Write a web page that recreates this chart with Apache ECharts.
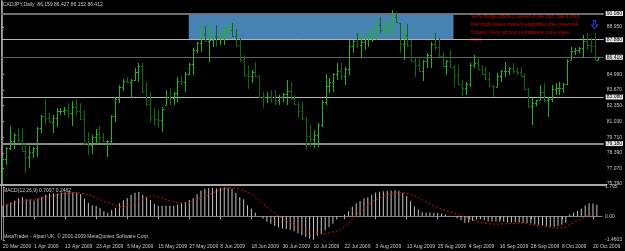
<!DOCTYPE html>
<html>
<head>
<meta charset="utf-8">
<script src="https://cdn.jsdelivr.net/npm/echarts@6/dist/echarts.min.js"></script>
<style>
  html, body { margin: 0; padding: 0; background: #000; }
  #chart { width: 625px; height: 251px; }
</style>
</head>
<body>
<div id="chart"></div>
<script>
// CADJPY daily, 20 Mar 2009 .. 21 Oct 2009 (one entry per trading day)
const opens = [76.60,77.85,78.80,79.39,79.90,79.48,78.55,78.05,78.43,78.80,80.45,81.50,81.32,80.95,81.36,81.87,81.91,81.95,81.70,82.24,
  81.87,81.25,79.25,79.10,79.72,79.94,79.69,79.40,79.40,81.45,82.95,83.95,84.45,84.30,84.50,85.14,85.70,83.60,82.50,81.41,
  81.24,81.19,82.41,83.12,82.96,83.40,84.46,84.34,85.05,85.85,87.00,87.60,88.36,87.80,87.86,88.20,88.07,88.24,88.70,88.70,
  88.20,87.40,86.20,84.90,84.80,85.20,84.85,83.10,83.04,83.12,83.04,82.83,83.04,83.35,83.59,83.00,82.50,81.91,81.30,79.81,
  79.56,79.90,80.75,82.70,84.04,84.30,85.00,85.22,84.84,85.45,87.32,87.75,87.40,87.65,87.99,88.32,88.70,89.12,88.70,88.95,
  89.24,89.75,89.28,87.53,88.24,87.40,86.10,85.80,85.30,86.10,86.60,87.50,87.23,86.55,85.70,86.10,85.60,84.92,84.15,83.80,
  84.20,85.80,85.89,85.40,85.05,84.60,84.00,83.95,84.84,85.25,85.26,85.51,85.26,85.17,84.85,83.75,82.30,82.62,82.83,83.46,
  82.80,82.95,83.75,83.80,83.83,84.15,86.18,86.90,87.02,87.20,87.74,87.40,87.32,86.159];
const highs = [77.96,78.89,80.65,80.06,80.48,80.48,79.22,78.97,78.89,80.56,81.57,82.91,81.74,81.57,82.16,82.16,82.24,82.58,82.74,82.91,
  82.58,81.99,80.14,79.89,80.39,80.65,80.06,79.47,81.57,83.08,84.08,84.59,84.75,84.59,85.51,85.93,85.93,84.34,83.50,82.16,
  81.99,82.24,83.66,83.83,83.50,84.75,84.84,85.17,85.93,87.19,87.69,89.12,89.03,89.20,88.45,89.12,88.70,89.03,89.37,89.28,
  88.78,88.02,86.60,85.76,85.34,86.01,84.92,83.50,83.50,83.66,83.66,83.25,83.41,84.50,84.34,83.25,82.66,82.66,81.40,80.73,
  80.31,80.90,82.83,85.01,84.67,85.09,85.93,85.93,85.59,87.86,87.86,88.45,88.45,88.28,88.70,88.95,89.54,89.79,89.28,89.62,
  90.37,90.21,89.28,88.87,89.20,87.86,86.43,86.43,86.18,86.77,87.69,88.45,88.03,86.85,86.18,87.02,85.76,85.76,84.50,84.34,
  85.93,86.60,86.43,85.76,85.59,85.17,84.08,85.09,85.34,86.01,85.59,85.93,85.59,85.59,85.09,83.83,82.99,82.83,84.08,84.25,
  83.08,84.08,84.25,84.34,84.25,86.26,87.27,87.19,87.27,88.28,88.45,88.03,88.45,86.427];
const lows = [76.12,77.38,78.63,78.72,79.31,78.47,76.71,77.13,77.96,78.05,80.06,80.73,80.90,80.06,80.56,81.57,81.57,81.32,80.65,81.57,
  81.15,79.05,78.21,78.30,79.05,79.22,79.31,78.05,79.05,80.98,82.58,83.58,84.25,82.99,84.42,84.34,83.41,82.32,80.98,80.65,
  80.48,80.14,82.41,82.41,82.41,82.66,84.08,83.50,84.92,84.92,86.77,86.85,87.69,86.01,87.27,87.27,87.44,87.44,88.03,88.11,
  87.27,86.01,84.75,83.75,84.25,84.75,82.99,82.16,82.58,82.58,82.41,82.41,82.66,82.41,82.83,82.41,81.32,81.15,78.63,78.89,
  78.80,78.89,80.56,82.41,83.41,83.50,84.50,84.50,84.08,84.92,86.77,87.19,86.35,87.02,87.27,87.69,87.86,88.45,88.11,88.28,
  88.11,89.28,86.77,86.18,87.27,86.01,84.75,85.17,84.42,85.51,85.51,87.02,86.43,85.59,84.92,85.51,83.91,84.08,83.16,83.25,
  83.91,85.51,85.34,84.92,84.50,83.91,83.08,83.91,84.34,84.75,84.92,85.09,84.92,84.75,83.66,82.16,80.73,82.32,82.83,82.66,
  81.40,82.66,83.25,83.25,83.41,84.08,86.18,86.60,86.77,86.43,87.02,86.77,86.18,86.152];
const closes = [77.85,78.80,79.39,79.90,79.48,78.55,78.05,78.43,78.80,80.45,81.50,81.32,80.95,81.36,81.87,81.91,81.95,81.70,82.24,81.87,
  81.25,79.25,79.10,79.72,79.94,79.69,79.40,79.40,81.45,82.95,83.95,84.45,84.30,84.50,85.14,85.70,83.60,82.50,81.41,81.24,
  81.19,82.10,83.12,82.96,83.40,84.46,84.34,85.05,85.85,87.00,87.60,88.36,87.80,87.86,88.20,88.07,88.24,88.70,88.70,88.20,
  87.40,86.20,84.90,84.80,85.20,84.85,83.10,83.04,83.12,83.04,82.83,83.04,83.35,83.59,83.00,82.50,81.91,81.30,79.81,79.56,
  79.90,80.75,82.70,84.04,84.30,85.00,85.22,84.84,85.45,87.32,87.75,87.40,87.65,87.99,88.32,88.70,89.12,88.70,88.95,89.24,
  89.75,89.40,87.53,88.24,87.40,86.10,85.80,85.30,86.10,86.60,87.50,87.23,86.55,85.70,86.10,85.60,84.92,84.15,83.80,84.20,
  85.80,85.89,85.40,85.05,84.60,84.00,83.95,84.84,85.25,85.26,85.51,85.26,85.17,84.85,83.75,82.30,82.62,82.80,83.46,82.80,
  82.95,83.75,83.80,83.83,84.15,86.10,86.90,87.02,87.20,87.74,87.40,87.32,86.20,86.412];

// MACD(12,26,9): main (histogram) and signal
const macdMain = [0.68,0.74,0.85,0.95,1.10,1.17,1.05,1.02,0.97,1.07,1.20,1.32,1.39,1.39,1.40,1.45,1.47,1.50,1.48,1.45,
  1.36,1.08,0.81,0.66,0.64,0.50,0.30,0.22,0.38,0.50,0.80,0.98,1.12,1.30,1.44,1.50,1.32,1.19,1.00,0.76,
  0.64,0.64,0.64,0.64,0.65,0.72,0.82,0.88,0.99,1.10,1.35,1.58,1.70,1.73,1.73,1.71,1.75,1.78,1.75,1.69,
  1.44,1.17,1.05,0.68,0.47,0.22,0.02,-0.16,-0.34,-0.46,-0.60,-0.70,-0.75,-0.78,-0.83,-0.92,-1.05,-1.17,-1.28,-1.38,
  -1.45,-1.20,-1.08,-0.88,-0.66,-0.46,-0.20,-0.04,0.11,0.30,0.58,0.79,0.94,1.10,1.17,1.32,1.45,1.50,1.54,1.55,
  1.58,1.60,1.56,1.42,1.24,0.92,0.62,0.42,0.25,0.22,0.25,0.21,0.20,0.16,0.10,0.03,-0.05,-0.13,-0.25,-0.40,
  -0.40,-0.29,-0.20,-0.18,-0.24,-0.32,-0.32,-0.32,-0.32,-0.34,-0.38,-0.38,-0.38,-0.38,-0.41,-0.43,-0.45,-0.50,-0.53,-0.56,
  -0.62,-0.64,-0.64,-0.62,-0.53,-0.40,0.11,0.21,0.32,0.47,0.66,0.80,0.78,0.7097];
const macdSignal = [0.68,0.72,0.78,0.83,0.88,0.92,0.96,1.00,1.03,1.07,1.11,1.17,1.22,1.27,1.31,1.36,1.39,1.41,1.43,1.45,
  1.42,1.37,1.32,1.25,1.15,1.03,0.93,0.84,0.75,0.66,0.57,0.56,0.65,0.76,0.86,0.96,1.06,1.14,1.24,1.25,
  1.17,1.09,1.01,0.94,0.89,0.84,0.79,0.76,0.83,0.93,1.03,1.13,1.22,1.32,1.43,1.53,1.62,1.70,1.75,1.74,
  1.71,1.66,1.56,1.48,1.39,1.18,0.98,0.77,0.58,0.37,0.18,-0.01,-0.14,-0.28,-0.40,-0.52,-0.63,-0.73,-0.82,-0.90,
  -0.97,-1.04,-1.09,-1.08,-1.02,-0.97,-0.91,-0.85,-0.64,-0.43,-0.18,0.06,0.29,0.51,0.68,0.84,1.00,1.12,1.23,1.31,
  1.38,1.45,1.45,1.45,1.41,1.34,1.27,1.14,1.01,0.87,0.74,0.64,0.54,0.44,0.35,0.27,0.20,0.12,0.05,-0.03,
  -0.13,-0.22,-0.32,-0.37,-0.42,-0.46,-0.48,-0.49,-0.48,-0.47,-0.46,-0.45,-0.44,-0.43,-0.43,-0.47,-0.50,-0.53,-0.57,-0.62,
  -0.66,-0.70,-0.74,-0.73,-0.70,-0.66,-0.50,-0.40,-0.28,-0.15,-0.02,0.10,0.20,0.2462];

// date axis: a label every 8 trading days
const dateLabels = ["20 Mar 2009","1 Apr 2009","13 Apr 2009","23 Apr 2009","5 May 2009","15 May 2009","27 May 2009",
  "8 Jun 2009","18 Jun 2009","30 Jun 2009","10 Jul 2009","22 Jul 2009","3 Aug 2009","13 Aug 2009","25 Aug 2009",
  "4 Sep 2009","16 Sep 2009","28 Sep 2009","8 Oct 2009","20 Oct 2009"];
const dateLabelBars = [0,8,16,24,32,40,48,56,64,72,80,88,96,104,112,120,128,136,144,152];

const priceTicks = [88.950, 84.990, 83.670, 82.350, 81.030, 79.710, 78.390, 77.070, 75.790];
const macdTicks = [1.795, 0, -1.4603];

// horizontal lines drawn on the chart
const levelPrices = [90.080, 87.880, 86.412, 83.080, 79.180];
const levelColors = ['#707070', '#b4b4b4', '#606060', '#b8b8b8', '#8a8a8a'];
const levelWidths = [2, 1, 1, 1, 2];

// resistance box (bars, prices) and arrow
const boxBars = [47.9, 115.8];
const boxPrices = [87.880, 90.080];
const arrowBar = 152;
const arrowPrice = 89.15;

const noteLines = [
  "Very huge DBHLC (even if we can call it four",
  "bar high lower close!) engulfing the previous",
  "5 bars. Very strong resistance zone (see",
  "box)"
];

const upColor = '#22b322';
const downColor = '#0f6a0f';
const font = 'Liberation Sans';

const bars = opens.map((o, i) => [i, o, highs[i], lows[i], closes[i]]);
const histData = macdMain.map((v, i) => [i, v]);
const signalData = macdSignal.map((v, i) => [i, v]);

function renderBar(params, api) {
  const i = api.value(0);
  const o = api.coord([i, api.value(1)]);
  const h = api.coord([i, api.value(2)]);
  const l = api.coord([i, api.value(3)]);
  const c = api.coord([i, api.value(4)]);
  const x = Math.round(h[0]) + 0.5;
  const color = api.value(4) >= api.value(1) ? upColor : downColor;
  const style = { stroke: color, lineWidth: 1 };
  const yo = Math.round(o[1]) + 0.5;
  const yc = Math.round(c[1]) + 0.5;
  return {
    type: 'group',
    children: [
      { type: 'line', shape: { x1: x, y1: h[1], x2: x, y2: l[1] }, style: style },
      { type: 'line', shape: { x1: x - 1.5, y1: yo, x2: x, y2: yo }, style: style },
      { type: 'line', shape: { x1: x, y1: yc, x2: x + 1.5, y2: yc }, style: style }
    ]
  };
}

const xMin = -0.26, xMax = 154.34;
const labelColor = '#c8c8c8';

const chart = echarts.init(document.getElementById('chart'));
chart.setOption({
  backgroundColor: '#000',
  animation: false,
  textStyle: { fontFamily: font },
  grid: [
    { left: 1, right: 18, top: 1, height: 183 },
    { left: 1, right: 18, top: 187, height: 53 }
  ],
  xAxis: [
    { type: 'value', gridIndex: 0, min: xMin, max: xMax, show: false },
    {
      type: 'value', gridIndex: 1, min: xMin, max: xMax,
      axisLine: { show: true, lineStyle: { color: '#808080' } },
      axisTick: { show: true, customValues: dateLabelBars, length: 3, lineStyle: { color: '#a0a0a0' } },
      axisLabel: {
        customValues: dateLabelBars, color: labelColor, fontSize: 5, margin: 4, align: 'left',
        formatter: v => dateLabels[dateLabelBars.indexOf(Math.round(v))] || ''
      },
      splitLine: { show: false }
    }
  ],
  yAxis: [
    {
      type: 'value', gridIndex: 0, position: 'right', min: 75.79, max: 91.127,
      axisLine: { show: true, lineStyle: { color: '#8c8c8c' } },
      axisTick: { show: true, customValues: priceTicks, length: 2, lineStyle: { color: '#a0a0a0' } },
      axisLabel: { customValues: priceTicks, color: labelColor, fontSize: 5, margin: 3, formatter: v => v.toFixed(3) },
      splitLine: { show: false }
    },
    {
      type: 'value', gridIndex: 1, position: 'right', min: -1.4603, max: 1.795,
      axisLine: { show: true, lineStyle: { color: '#8c8c8c' } },
      axisTick: { show: true, customValues: macdTicks, length: 2, lineStyle: { color: '#a0a0a0' } },
      axisLabel: { customValues: macdTicks, color: labelColor, fontSize: 5, margin: 3, formatter: v => v === 0 ? '0.00' : String(v) },
      splitLine: { show: false }
    }
  ],
  series: [
    {
      // resistance box, drawn as background
      type: 'line', xAxisIndex: 0, yAxisIndex: 0, data: [], z: 1, silent: true,
      markArea: {
        silent: true,
        itemStyle: { color: 'rgb(70,130,180)' },
        data: [[{ xAxis: boxBars[0], yAxis: boxPrices[1] }, { xAxis: boxBars[1], yAxis: boxPrices[0] }]]
      }
    },
    {
      type: 'custom', xAxisIndex: 0, yAxisIndex: 0, z: 5,
      renderItem: renderBar,
      encode: { x: 0, y: [1, 2, 3, 4] },
      data: bars,
      markPoint: {
        symbol: 'path://M3,0 L7,0 L7,6 L10,6 L5,11 L0,6 L3,6 Z',
        symbolSize: [6, 8],
        itemStyle: { color: 'rgba(0,0,0,0)', borderColor: '#2b3fe0', borderWidth: 1 },
        label: { show: false },
        data: [{ coord: [arrowBar, arrowPrice] }]
      }
    },
    {
      type: 'line', xAxisIndex: 0, yAxisIndex: 0, data: [], z: 8, silent: true,
      markLine: {
        silent: true,
        symbol: ['none', 'none'],
        label: {
          position: 'end', distance: 2, fontSize: 5, color: '#000', backgroundColor: '#e4e4e4',
          padding: [0, 1, 0, 1], formatter: p => p.value.toFixed(3)
        },
        data: levelPrices.map((p, k) => ({
          yAxis: p,
          lineStyle: { color: levelColors[k], width: levelWidths[k], type: 'solid' }
        }))
      }
    },
    {
      type: 'bar', xAxisIndex: 1, yAxisIndex: 1, data: histData, barWidth: 1,
      itemStyle: { color: '#c4c4c4' }, z: 3
    },
    {
      type: 'line', xAxisIndex: 1, yAxisIndex: 1, data: signalData, symbol: 'none',
      lineStyle: { color: '#d01010', width: 1, type: [2, 2] }, z: 4
    }
  ],
  graphic: [
    { type: 'line', shape: { x1: 1.5, y1: 0, x2: 1.5, y2: 240 }, style: { stroke: '#9a9a9a', lineWidth: 1 } },
    { type: 'line', shape: { x1: 0, y1: 185, x2: 607, y2: 185 }, style: { stroke: '#a8a8a8', lineWidth: 2 } },
    { type: 'text', left: 3, top: 2, style: { text: 'CADJPY,Daily  86.159 86.427 86.152 86.412', fill: labelColor, font: '5px ' + font } },
    { type: 'text', left: 3, top: 188, style: { text: 'MACD(12,26,9) 0.7097 0.2462', fill: labelColor, font: '5px ' + font } },
    { type: 'text', left: 3, top: 234, style: { text: 'MetaTrader - Alpari UK, \u00a9 2001-2009 MetaQuotes Software Corp.', fill: labelColor, font: '5px ' + font } },
    {
      type: 'text', left: 471, top: 13,
      style: { text: noteLines.join('\n'), fill: '#d40000', font: '5.5px ' + font, lineHeight: 7.7 }
    }
  ]
});
</script>
</body>
</html>
